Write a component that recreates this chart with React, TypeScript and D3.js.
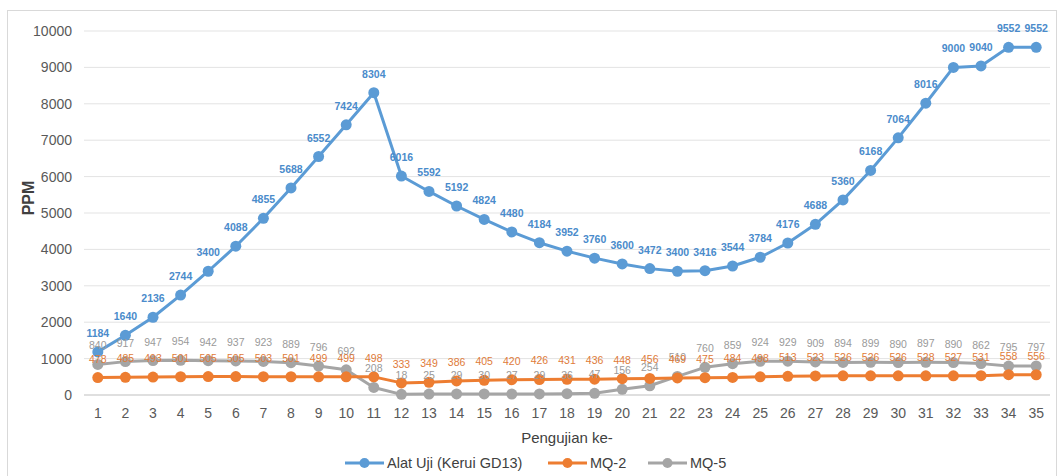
import React from 'react';
import * as d3 from 'd3';

const tests = d3.range(1, 36);
const alatUji = [1184, 1640, 2136, 2744, 3400, 4088, 4855, 5688, 6552, 7424, 8304, 6016, 5592, 5192, 4824, 4480, 4184, 3952, 3760, 3600, 3472, 3400, 3416, 3544, 3784, 4176, 4688, 5360, 6168, 7064, 8016, 9000, 9040, 9552, 9552];
const mq2 = [478, 485, 493, 501, 505, 505, 503, 501, 499, 499, 498, 333, 349, 386, 405, 420, 426, 431, 436, 448, 456, 469, 475, 484, 498, 513, 523, 526, 526, 526, 528, 527, 531, 558, 556];
const mq5 = [840, 917, 947, 954, 942, 937, 923, 889, 796, 692, 208, 18, 25, 29, 30, 27, 29, 36, 47, 156, 254, 510, 760, 859, 924, 929, 909, 894, 899, 890, 897, 890, 862, 795, 797];
const yTicks = d3.range(0, 10001, 1000);

const series = [
  { name: 'Alat Uji (Kerui GD13)', values: alatUji, color: '#5B9BD5', label: '#4A8BCB', weight: 600 },
  { name: 'MQ-2', values: mq2, color: '#ED7D31', label: '#E07B39', weight: 400 },
  { name: 'MQ-5', values: mq5, color: '#A5A5A5', label: '#9A9A9A', weight: 400 },
];

const font = '"Liberation Sans", Arial, sans-serif';

const App = () => {
  const x = d3.scaleBand<number>().domain(tests).range([84, 1050]);
  const y = d3.scaleLinear().domain([0, 10000]).range([395, 31]);
  const cx = (d: number) => (x(d) as number) + x.bandwidth() / 2;

  const line = d3.line<number>()
    .x((_, i) => cx(tests[i]))
    .y(d => y(d));

  // MQ-5 under MQ-2 under Alat Uji
  const drawOrder = [series[2], series[1], series[0]];

  const legend = [
    { s: series[0], x: 345 },
    { s: series[1], x: 548 },
    { s: series[2], x: 648 },
  ];

  return (
    <svg width={1063} height={476} style={{ position: 'absolute', left: 0, top: 0, background: '#fff' }} fontFamily={font}>
      <rect x={7.5} y={10.5} width={1049} height={480} fill="#fff" stroke="#D9D9D9" />

      {yTicks.map(t => (
        <g key={t}>
          <line x1={84} x2={1050} y1={y(t)} y2={y(t)} stroke={t === 0 ? '#BFBFBF' : '#E3E3E3'} strokeWidth={1} />
          <text x={72} y={y(t)} dy="0.35em" textAnchor="end" fontSize={14} fill="#595959">{t}</text>
        </g>
      ))}

      {tests.map(t => (
        <text key={t} x={cx(t)} y={413} dy="0.35em" textAnchor="middle" fontSize={14} fill="#595959">{t}</text>
      ))}

      <text transform="translate(28,198) rotate(-90)" textAnchor="middle" dy="0.35em" fontSize={16} fontWeight={600} fill="#404040">PPM</text>
      <text x={567} y={438} textAnchor="middle" dy="0.35em" fontSize={15} fill="#404040">Pengujian ke-</text>

      {drawOrder.map(s => (
        <g key={s.name}>
          <path d={line(s.values) || ''} fill="none" stroke={s.color} strokeWidth={3} strokeLinejoin="round" />
          {s.values.map((v, i) => (
            <circle key={i} cx={cx(tests[i])} cy={y(v)} r={5.5} fill={s.color} />
          ))}
        </g>
      ))}

      {drawOrder.map(s => (
        <g key={s.name + '-labels'}>
          {s.values.map((v, i) => (
            <text key={i} x={cx(tests[i])} y={y(v) - 15} textAnchor="middle" fontSize={10.5} fontWeight={s.weight} fill={s.label}>{v}</text>
          ))}
        </g>
      ))}

      {legend.map(({ s, x: lx }) => (
        <g key={s.name + '-legend'}>
          <line x1={lx} x2={lx + 39} y1={463} y2={463} stroke={s.color} strokeWidth={3} />
          <circle cx={lx + 19.5} cy={463} r={5} fill={s.color} />
          <text x={lx + 42} y={463} dy="0.35em" fontSize={14.5} fill="#404040">{s.name}</text>
        </g>
      ))}
    </svg>
  );
};

export default App;
